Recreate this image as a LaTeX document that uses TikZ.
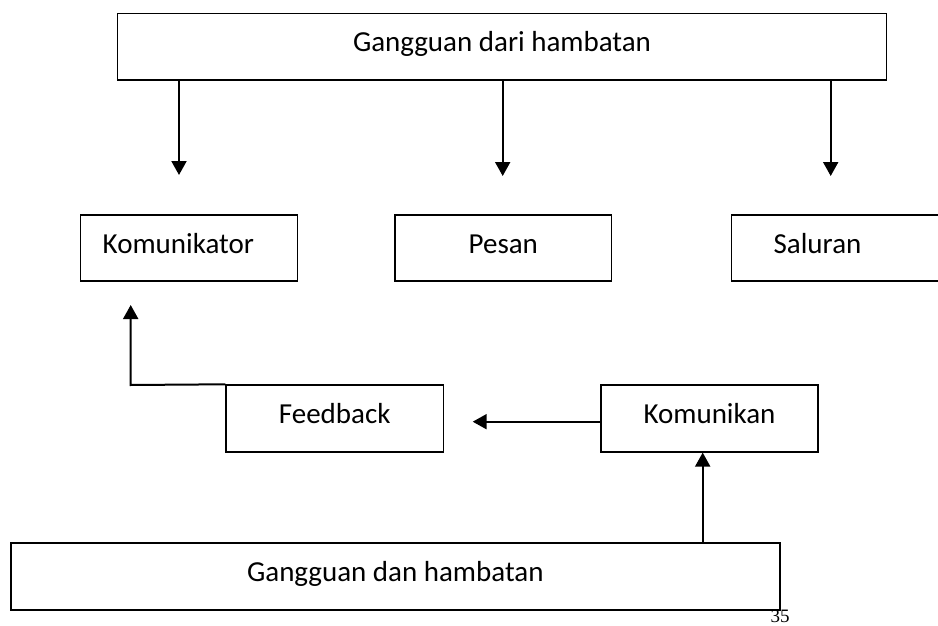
\documentclass[tikz,border=0pt]{standalone}
\usepackage{fontspec}
\setmainfont{Carlito}
\newfontfamily\pagenumfont{Liberation Serif}
\usetikzlibrary{arrows.meta}
\tikzset{
  box/.style={draw=black, line width=1.5pt, rectangle, inner ysep=0pt,
    text height=20pt, text depth=10pt,
    font=\fontsize{29}{34}\selectfont},
  arr/.style={draw=black, line width=2pt, -{Triangle[width=15pt,length=14pt]}},
}
\begin{document}
\begin{tikzpicture}[x=1pt, y=-1pt]
\useasboundingbox (0,0) rectangle (938,626);
\clip (0,0) rectangle (938,626);

\node[box, minimum width=769.4pt, minimum height=66.7pt] (top) at (502,46.7) {Gangguan dari hambatan};

\node[box, text width=173pt, inner xsep=22pt, align=left, minimum height=66pt] (komunikator) at (189.2,248) {Komunikator};
\node[box, minimum width=216.7pt, minimum height=66pt] (pesan) at (503.3,248) {Pesan};
\node[box, text width=132.7pt, inner xsep=42pt, align=left, minimum height=66pt] (saluran) at (840,248) {Saluran};

\node[box, minimum width=217.3pt, minimum height=66.7pt] (feedback) at (334.7,418.4) {Feedback};
\node[box, minimum width=216.7pt, minimum height=66.7pt] (komunikan) at (709.5,418.5) {Komunikan};

\node[box, line width=2pt, minimum width=769.3pt, minimum height=67pt] (bottom) at (395.3,576.5) {Gangguan dan hambatan};

\node[font=\pagenumfont\fontsize{19}{22}\selectfont, inner sep=0pt, anchor=base] (pagenum) at (780,622.5) {35};

% arrow ends
\coordinate (t1) at (179,175);
\coordinate (t2) at (502.7,176);
\coordinate (t3) at (830.7,176);
\coordinate (fbtip) at (472.7,421.7);
\coordinate (fbcorner) at (130.7,385);
\coordinate (kmtip) at (130.7,305);
\coordinate (upx) at (702.7,500);

\draw[arr] (top.south -| t1) -- (t1);
\draw[arr] (top.south -| t2) -- (t2);
\draw[arr] (top.south -| t3) -- (t3);

\draw[arr] (komunikan.west |- fbtip) -- (fbtip);
\draw[arr] (feedback.north west) -- (fbcorner) -- (kmtip);
\draw[arr] (bottom.north -| upx) -- (komunikan.south -| upx);
\end{tikzpicture}
\end{document}
